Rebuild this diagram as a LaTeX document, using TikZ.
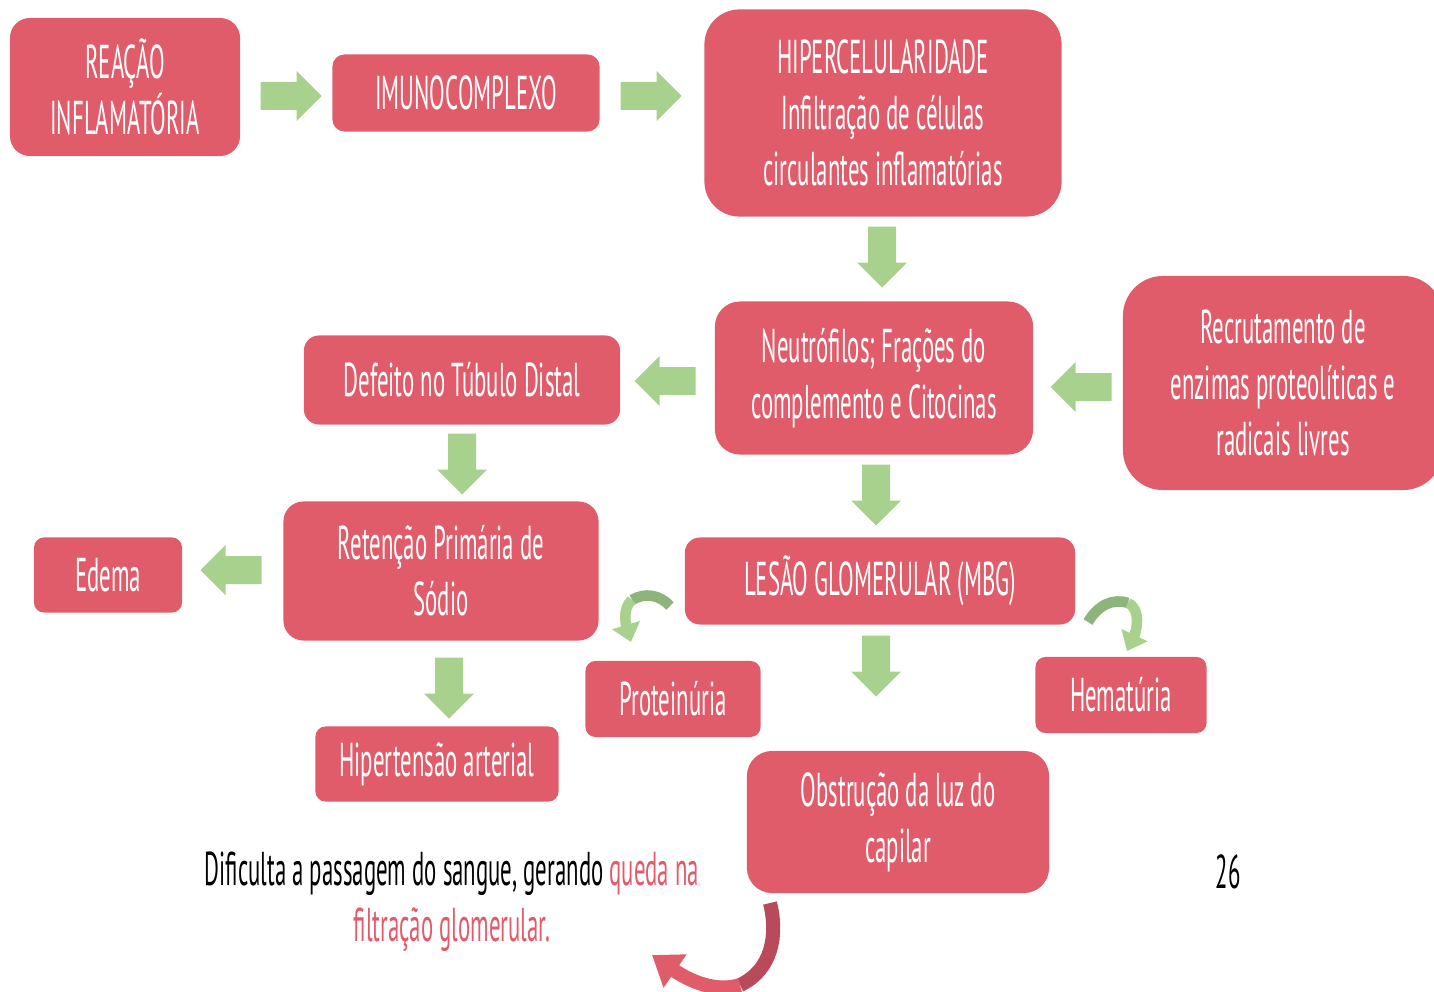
\documentclass[tikz,border=0pt]{standalone}
\usepackage{fontspec}
\setmainfont{PT Sans}[FakeStretch=0.48]
\usetikzlibrary{arrows.meta}
\definecolor{boxred}{HTML}{E05C6A}
\definecolor{agreen}{HTML}{A9D18E}
\definecolor{dgreen}{HTML}{8DB47A}
\definecolor{dred}{HTML}{B84A5A}
\tikzset{
  box/.style={fill=boxred, text=white, align=center, inner sep=0pt,
    font=\fontsize{13.5}{16}\selectfont},
  barrow/.pic={\fill[agreen] (-30.5,-14) -- (5.5,-14) -- (5.5,-25) -- (30.5,0) -- (5.5,25) -- (5.5,14) -- (-30.5,14) -- cycle;},
  gcurve/.style={line width=3pt},
  rcurve/.style={line width=4pt}
}
\begin{document}
\begin{tikzpicture}[x=0.01cm,y=-0.01cm]
\useasboundingbox (0,0) rectangle (1434,991);
\node[box, rounded corners=0.2cm, minimum width=2.3cm, minimum height=1.38cm] (reacao) at (125,87) {REAÇÃO\\INFLAMATÓRIA};
\node[box, rounded corners=0.12cm, minimum width=2.67cm, minimum height=0.77cm] (imuno) at (466,93) {IMUNOCOMPLEXO};
\node[box, rounded corners=0.35cm, minimum width=3.57cm, minimum height=2.07cm] (hiper) at (883,113) {HIPERCELULARIDADE\\Infiltração de células\\circulantes inflamatórias};
\node[box, rounded corners=0.25cm, minimum width=3.18cm, minimum height=1.53cm] (neutro) at (874,378) {Neutrófilos; Frações do\\complemento e Citocinas};
\node[box, rounded corners=0.4cm, minimum width=3.2cm, minimum height=2.14cm] (recrut) at (1283,383) {Recrutamento de\\enzimas proteolíticas e\\radicais livres};
\node[box, rounded corners=0.15cm, minimum width=3.16cm, minimum height=0.89cm] (defeito) at (462,380) {Defeito no Túbulo Distal};
\node[box, rounded corners=0.2cm, minimum width=3.15cm, minimum height=1.39cm] (retencao) at (441,571) {Retenção Primária de\\Sódio};
\node[box, rounded corners=0.1cm, minimum width=1.48cm, minimum height=0.75cm] (edema) at (108,575) {Edema};
\node[box, rounded corners=0.15cm, minimum width=3.9cm, minimum height=0.87cm] (lesao) at (880,581) {LESÃO GLOMERULAR (MBG)};
\node[box, rounded corners=0.1cm, minimum width=1.75cm, minimum height=0.76cm] (prot) at (673,699) {Proteinúria};
\node[box, rounded corners=0.1cm, minimum width=1.71cm, minimum height=0.76cm] (hema) at (1121,695) {Hematúria};
\node[box, rounded corners=0.1cm, minimum width=2.43cm, minimum height=0.75cm] (hiperten) at (437,764) {Hipertensão arterial};
\node[box, rounded corners=0.25cm, minimum width=3.02cm, minimum height=1.42cm] (obstr) at (898,822) {Obstrução da luz do\\capilar};
\node[align=center, font=\fontsize{13.5}{16}\selectfont, inner sep=0pt] (dif) at (452,902) {Dificulta a passagem do sangue, gerando \textcolor{boxred}{queda na}\\\textcolor{boxred}{filtração glomerular.}};
\node[font=\fontsize{13.5}{16}\selectfont, inner sep=0pt] (page) at (1228,872) {26};
% block arrows
\pic at (291,96) {barrow};
\pic at (651,96) {barrow};
\pic[rotate=-90] at (882,257) {barrow};
\pic[rotate=180] at (665,381) {barrow};
\pic[rotate=180] at (1081,387) {barrow};
\pic[rotate=-90] at (876,495) {barrow};
\pic[rotate=-90] at (462,464) {barrow};
\pic[rotate=180] at (231,570) {barrow};
\pic[rotate=-90] at (449,688) {barrow};
\pic[rotate=-90] at (876,666) {barrow};
% curved arrows
\draw[dgreen, gcurve] (670,606) .. controls (660,595) and (645,592) .. (632,600);
\draw[agreen, gcurve, -{Triangle[width=8pt,length=5pt]}] (632,600) .. controls (622,608) and (626,625) .. (631,642);
\draw[dgreen, gcurve] (1088,622) .. controls (1098,605) and (1113,598) .. (1128,603);
\draw[agreen, gcurve, -{Triangle[width=8pt,length=5pt]}] (1128,603) .. controls (1142,610) and (1136,632) .. (1127,651);
\draw[dred, rcurve] (770,903) .. controls (778,935) and (772,970) .. (740,985);
\draw[boxred, rcurve, -{Triangle[width=11pt,length=8pt]}] (740,985) .. controls (715,993) and (688,980) .. (652,955);
\end{tikzpicture}
\end{document}
